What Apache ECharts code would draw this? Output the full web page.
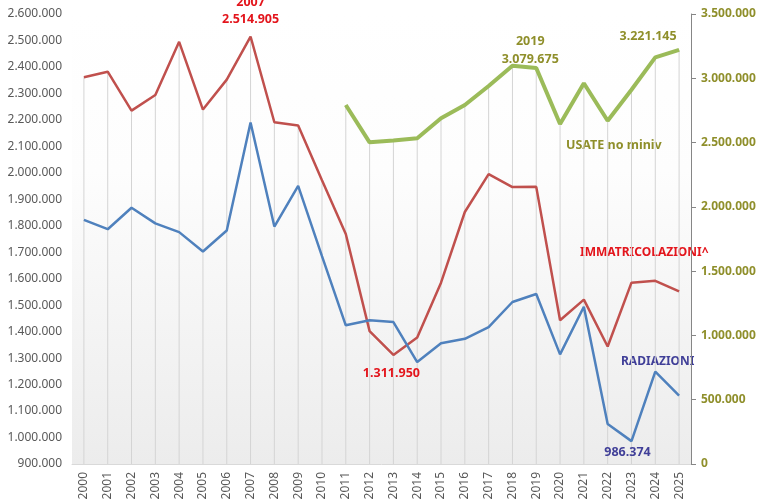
<!DOCTYPE html>
<html lang="it">
<head>
    <meta charset="UTF-8">
    <title>Immatricolazioni, radiazioni e usate</title>
    <script src="https://cdn.jsdelivr.net/npm/echarts@6/dist/echarts.min.js"></script>
    <style>
        html, body {
            margin: 0;
            padding: 0;
            background: #ffffff;
        }

        #chart {
            width: 769px;
            height: 504px;
        }
    </style>
</head>
<body>
<div id="chart"></div>
<script>
    // anni
    var years = ['2000', '2001', '2002', '2003', '2004', '2005', '2006', '2007', '2008', '2009', '2010', '2011', '2012',
        '2013', '2014', '2015', '2016', '2017', '2018', '2019', '2020', '2021', '2022', '2023', '2024', '2025']

    // immatricolazioni (asse sinistro)
    var immatricolazioni = [2361000, 2382000, 2235000, 2294000, 2495000, 2239000, 2352000, 2514905, 2191000, 2179000,
        1972000, 1769000, 1402000, 1311950, 1378000, 1585000, 1852000, 1995000, 1946000, 1947000,
        1443000, 1521000, 1344000, 1585000, 1592000, 1552000]

    // radiazioni (asse sinistro)
    var radiazioni = [1822000, 1787000, 1868000, 1809000, 1776000, 1703000, 1782000, 2190000, 1797000, 1951000,
        1685000, 1424000, 1443000, 1436000, 1285000, 1356000, 1373000, 1417000, 1512000, 1542000,
        1314000, 1494000, 1051000, 986374, 1249000, 1158000]

    // usate no miniv (asse destro), dal 2011
    var usate = [null, null, null, null, null, null, null, null, null, null,
        null, 2792000, 2502000, 2517000, 2533000, 2689000, 2792000, 2940000, 3098000, 3079675,
        2645000, 2961000, 2670000, 2911000, 3163000, 3221145]

    // tacche assi
    var leftMin = 900000, leftMax = 2600000, leftStep = 100000
    var rightMin = 0, rightMax = 3500000, rightStep = 500000

    var RED = '#c0504d', BLUE = '#4f81bd', GREEN = '#9bbb59'
    var RED_TXT = '#e3151c', OLIVE_TXT = '#8f8f2b', BLUE_TXT = '#403f98'
    var FONT = 'Noto Sans'

    // 2.514.905
    function fmt (v) {
        return String(v).replace(/\B(?=(\d{3})+(?!\d))/g, '.')
    }

    // linee verticali: dal gruppo secondario dove esiste, altrimenti dal primario
    var dropLeft = immatricolazioni.map((v, i) => usate[i] == null ? Math.max(v, radiazioni[i]) : null)
    var dropRight = usate.map(v => v)

    function labelled (list, idx, label) {
        return list.map((v, i) => i === idx ? {value: v, label: label} : v)
    }

    var boldLabel = {fontFamily: FONT, fontWeight: 'bold', fontSize: 12.5}

    var chart = echarts.init(document.getElementById('chart'), null, {renderer: 'canvas'})
    var option = {
        animation: false,
        textStyle: {fontFamily: FONT},
        grid: {
            left: 72,
            right: 78,
            top: 14,
            bottom: 40,
            show: true,
            borderWidth: 0,
            backgroundColor: new echarts.graphic.LinearGradient(0, 0, 0, 1, [
                {offset: 0, color: '#ffffff'},
                {offset: 0.35, color: '#fdfdfd'},
                {offset: 1, color: '#ececec'}
            ])
        },
        xAxis: {
            type: 'category',
            data: years,
            boundaryGap: true,
            axisLine: {lineStyle: {color: '#d9d9d9', width: 1}},
            axisTick: {show: false},
            axisLabel: {
                rotate: 90,
                color: '#595959',
                fontSize: 12,
                margin: 8,
                fontFamily: FONT
            },
            splitLine: {show: false}
        },
        yAxis: [{
            type: 'value',
            min: leftMin,
            max: leftMax,
            interval: leftStep,
            axisLine: {show: false},
            axisTick: {show: false},
            splitLine: {show: false},
            axisLabel: {
                color: '#595959',
                fontSize: 12,
                margin: 10,
                fontFamily: FONT,
                formatter: fmt
            }
        }, {
            type: 'value',
            position: 'right',
            min: rightMin,
            max: rightMax,
            interval: rightStep,
            axisLine: {show: true, lineStyle: {color: '#868686', width: 1}},
            axisTick: {show: true, length: 5, lineStyle: {color: '#868686'}},
            splitLine: {show: false},
            axisLabel: {
                color: OLIVE_TXT,
                fontWeight: 'bold',
                fontSize: 12,
                margin: 10,
                fontFamily: FONT,
                formatter: fmt
            }
        }],
        series: [{
            // linee di riferimento (primario)
            type: 'bar',
            yAxisIndex: 0,
            barWidth: 1,
            barGap: '-100%',
            silent: true,
            itemStyle: {color: '#d4d4d4'},
            data: dropLeft
        }, {
            // linee di riferimento (secondario)
            type: 'bar',
            yAxisIndex: 1,
            barWidth: 1,
            barGap: '-100%',
            silent: true,
            itemStyle: {color: '#d4d4d4'},
            data: dropRight
        }, {
            name: 'IMMATRICOLAZIONI^',
            type: 'line',
            yAxisIndex: 0,
            symbol: 'circle',
            symbolSize: 0,
            lineStyle: {color: RED, width: 2.5},
            itemStyle: {color: RED},
            data: labelled(labelled(immatricolazioni, 7, Object.assign({
                show: true,
                position: 'top',
                distance: 9,
                color: RED_TXT,
                lineHeight: 17,
                formatter: '2007\n' + fmt(immatricolazioni[7])
            }, boldLabel)), 13, Object.assign({
                show: true,
                position: 'bottom',
                distance: 12,
                offset: [-2, 0],
                color: RED_TXT,
                formatter: fmt(immatricolazioni[13])
            }, boldLabel))
        }, {
            name: 'RADIAZIONI',
            type: 'line',
            yAxisIndex: 0,
            symbol: 'circle',
            symbolSize: 0,
            lineStyle: {color: BLUE, width: 2.5},
            itemStyle: {color: BLUE},
            data: labelled(radiazioni, 23, Object.assign({
                show: true,
                position: 'bottom',
                distance: 5,
                offset: [-4, 0],
                color: BLUE_TXT,
                formatter: fmt(radiazioni[23])
            }, boldLabel))
        }, {
            name: 'USATE no miniv',
            type: 'line',
            yAxisIndex: 1,
            symbol: 'circle',
            symbolSize: 0,
            connectNulls: false,
            lineStyle: {color: GREEN, width: 4},
            itemStyle: {color: GREEN},
            data: labelled(labelled(usate, 19, Object.assign({
                show: true,
                position: 'top',
                distance: 0,
                offset: [-6, 0],
                color: OLIVE_TXT,
                lineHeight: 18,
                formatter: '2019\n' + fmt(usate[19])
            }, boldLabel)), 25, Object.assign({
                show: true,
                position: 'top',
                distance: 7,
                offset: [-31, 0],
                color: OLIVE_TXT,
                formatter: fmt(usate[25])
            }, boldLabel))
        }],
        // nomi delle serie scritti nel grafico
        graphic: [{
            type: 'text',
            left: 566,
            top: 139,
            style: {text: 'USATE no miniv', fill: OLIVE_TXT, font: 'bold 12.5px "Noto Sans"'}
        }, {
            type: 'text',
            left: 580,
            top: 247,
            style: {text: 'IMMATRICOLAZIONI^', fill: RED_TXT, font: 'bold 12px "Noto Sans"'}
        }, {
            type: 'text',
            left: 621,
            top: 356,
            style: {text: 'RADIAZIONI', fill: BLUE_TXT, font: 'bold 12px "Noto Sans"'}
        }]
    }
    chart.setOption(option)
</script>
</body>
</html>
